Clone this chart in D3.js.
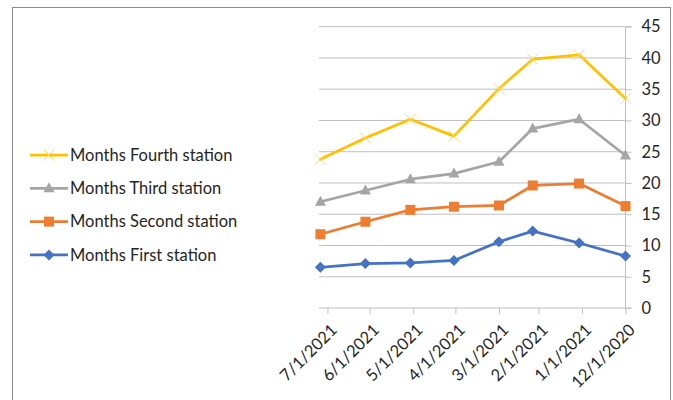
<!DOCTYPE html>
<html>
<head>
<meta charset="utf-8">
<script src="https://cdn.jsdelivr.net/npm/d3@7"></script>
<style>
  body { margin: 0; background: #fff; }
  svg text { font-family: Lato, "Liberation Sans", sans-serif; fill: #262626; }
</style>
</head>
<body>
<div id="chart"></div>
<script>
// data
const pointDates = ["2021-07-06", "2021-06-04", "2021-05-03", "2021-04-02", "2021-03-01", "2021-02-05", "2021-01-03", "2020-12-01"];
const tickDates = ["2021-07-01", "2021-06-01", "2021-05-01", "2021-04-01", "2021-03-01", "2021-02-01", "2021-01-01", "2020-12-01"];
const tickLabels = ["7/1/2021", "6/1/2021", "5/1/2021", "4/1/2021", "3/1/2021", "2/1/2021", "1/1/2021", "12/1/2020"];
const firstStation = [6.5, 7.1, 7.2, 7.6, 10.6, 12.3, 10.4, 8.3];
const secondStation = [11.8, 13.8, 15.7, 16.2, 16.4, 19.6, 19.9, 16.3];
const thirdStation = [17.0, 18.8, 20.6, 21.5, 23.4, 28.7, 30.2, 24.4];
const fourthStation = [23.8, 27.2, 30.2, 27.5, 35.1, 39.8, 40.5, 33.5];
const yTicks = [0, 5, 10, 15, 20, 25, 30, 35, 40, 45];

const series = [
  { name: "Months Fourth station", values: fourthStation, color: "#FFC000", marker: "x" },
  { name: "Months Third station", values: thirdStation, color: "#A5A5A5", marker: "triangle" },
  { name: "Months Second station", values: secondStation, color: "#ED7D31", marker: "square" },
  { name: "Months First station", values: firstStation, color: "#4472C4", marker: "diamond" }
];

const W = 673, H = 400;
const FS = 16.5;
const parse = d3.timeParse("%Y-%m-%d");

const svg = d3.select("#chart").append("svg")
  .attr("width", W)
  .attr("height", H);

svg.append("rect")
  .attr("x", 12.5).attr("y", 7.5)
  .attr("width", 658).attr("height", 420)
  .attr("fill", "#fff")
  .attr("stroke", "#8c8c8c")
  .attr("stroke-width", 1);

const plot = { left: 319, right: 625.5, top: 26.7, bottom: 308 };

const x = d3.scaleTime()
  .domain([parse("2020-12-01"), parse("2021-07-07")])
  .range([plot.right, plot.left]);

const y = d3.scaleLinear()
  .domain([0, 45])
  .range([plot.bottom, plot.top]);

// gridlines
svg.append("g")
  .selectAll("line")
  .data(yTicks.filter(d => d > 0))
  .join("line")
  .attr("x1", plot.left)
  .attr("x2", plot.right)
  .attr("y1", d => y(d))
  .attr("y2", d => y(d))
  .attr("stroke", "#bfbfbf")
  .attr("stroke-width", 1);

// right value axis
const yAxis = svg.append("g")
  .attr("transform", `translate(${plot.right},0)`)
  .call(d3.axisRight(y).tickValues(yTicks).tickSize(6).tickPadding(10));
yAxis.select(".domain").attr("stroke", "#bfbfbf").attr("d", `M6,${plot.top}H0V${plot.bottom}H6`);
yAxis.selectAll(".tick line").attr("stroke", "#bfbfbf");
yAxis.selectAll("text")
  .attr("font-size", FS)
  .attr("fill", "#262626")
  .attr("font-family", "Lato, sans-serif");

// bottom date axis
const xAxis = svg.append("g")
  .attr("transform", `translate(0,${plot.bottom})`)
  .call(d3.axisBottom(x)
    .tickValues(tickDates.map(parse))
    .tickFormat((d, i) => tickLabels[i])
    .tickSize(6)
    .tickPadding(4));
xAxis.select(".domain").attr("stroke", "#bfbfbf").attr("d", `M${plot.left},0H${plot.right}`);
xAxis.selectAll(".tick line").attr("stroke", "#bfbfbf");
xAxis.selectAll("text")
  .attr("font-size", FS)
  .attr("fill", "#262626")
  .attr("font-family", "Lato, sans-serif")
  .attr("text-anchor", "end")
  .attr("dy", "0.35em")
  .attr("transform", "translate(6,19) rotate(-45)")
  .attr("y", 0)
  .attr("x", 0);

const line = d3.line()
  .x((d, i) => x(parse(pointDates[i])))
  .y(d => y(d));

function drawMarker(g, type, color, cx, cy) {
  if (type === "x") {
    const s = 5.5;
    g.append("path")
      .attr("d", `M${cx - s},${cy - s}L${cx + s},${cy + s}M${cx - s},${cy + s}L${cx + s},${cy - s}`)
      .attr("stroke", "#FFD966")
      .attr("stroke-width", 1)
      .attr("fill", "none");
  } else if (type === "triangle") {
    g.append("path")
      .attr("d", `M${cx},${cy - 6}L${cx + 5.5},${cy + 4}L${cx - 5.5},${cy + 4}Z`)
      .attr("fill", color);
  } else if (type === "square") {
    g.append("rect")
      .attr("x", cx - 5).attr("y", cy - 5)
      .attr("width", 10).attr("height", 10)
      .attr("fill", color);
  } else if (type === "diamond") {
    g.append("path")
      .attr("d", `M${cx},${cy - 5.5}L${cx + 5.5},${cy}L${cx},${cy + 5.5}L${cx - 5.5},${cy}Z`)
      .attr("fill", color);
  }
}

// series, drawn bottom-up so the first station ends up underneath
series.slice().reverse().forEach(s => {
  const g = svg.append("g");
  g.append("path")
    .datum(s.values)
    .attr("d", line)
    .attr("fill", "none")
    .attr("stroke", s.color)
    .attr("stroke-width", 2.75)
    .attr("stroke-linejoin", "round")
    .attr("stroke-linecap", "round");
  s.values.forEach((v, i) => drawMarker(g, s.marker, s.color, x(parse(pointDates[i])), y(v)));
});

// legend
const legTop = 155, legStep = 33.3;
const legG = svg.append("g");
series.forEach((s, i) => {
  const ly = legTop + i * legStep;
  legG.append("line")
    .attr("x1", 30).attr("x2", 68)
    .attr("y1", ly).attr("y2", ly)
    .attr("stroke", s.color)
    .attr("stroke-width", 2.75);
  drawMarker(legG, s.marker, s.color, 49, ly);
  legG.append("text")
    .attr("x", 70)
    .attr("y", ly)
    .attr("dy", "0.35em")
    .attr("font-size", FS)
    .text(s.name);
});
</script>
</body>
</html>
